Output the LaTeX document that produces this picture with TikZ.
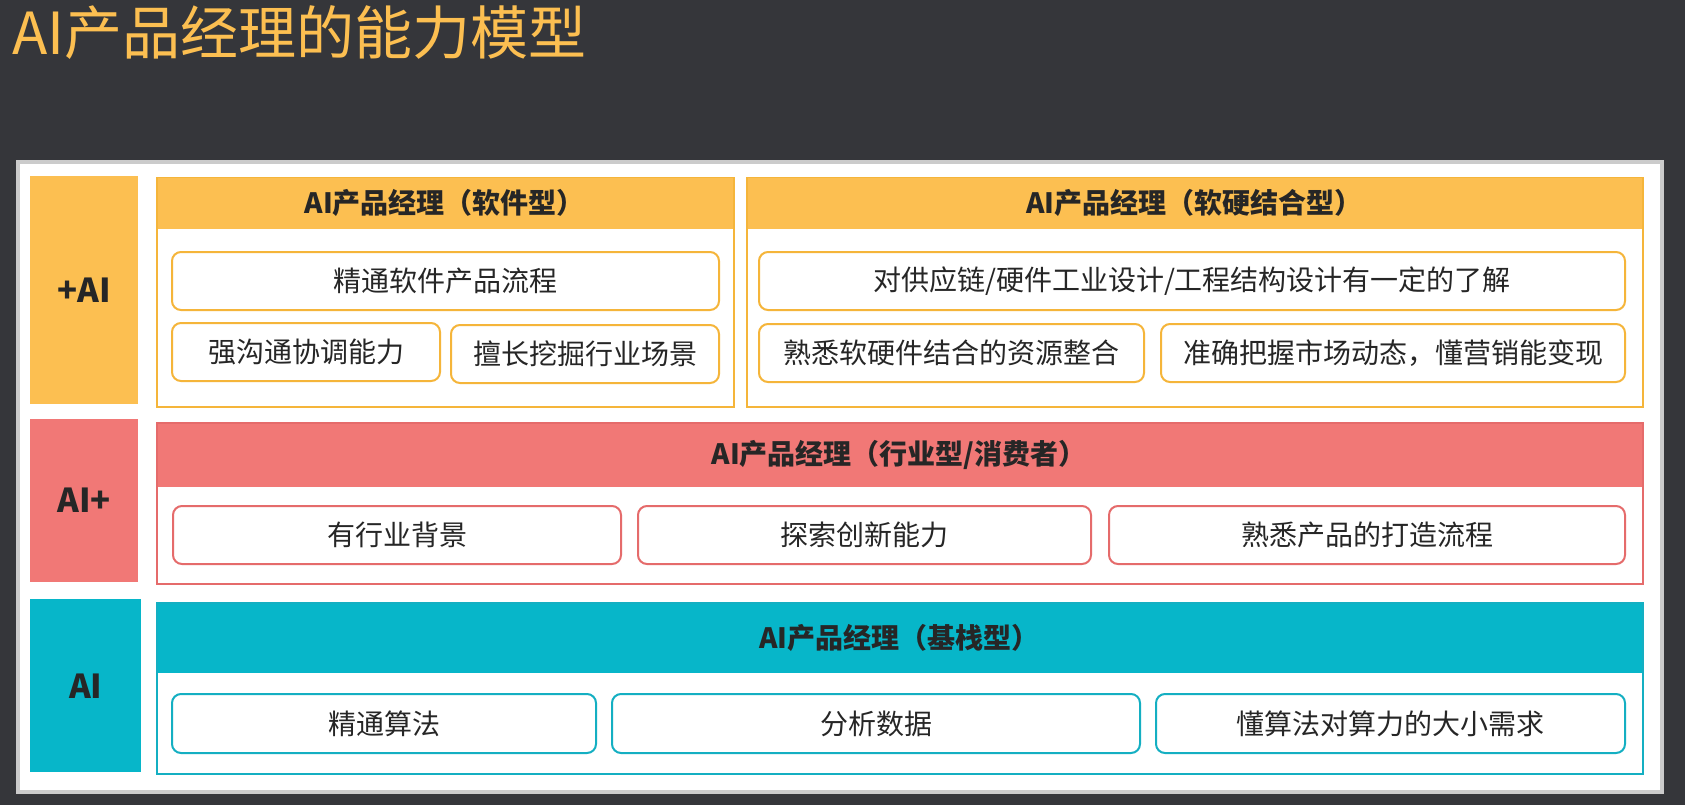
\documentclass[tikz,border=0pt]{standalone}
\usepackage{fontspec}
\setmainfont{Noto Sans CJK SC}
\usepackage{xcolor}
\usetikzlibrary{positioning,calc}

\definecolor{slate}{HTML}{35363A}
\definecolor{amber}{HTML}{FCBF51}
\definecolor{amberline}{HTML}{F5B53A}
\definecolor{coral}{HTML}{F17876}
\definecolor{coralline}{HTML}{E56B6B}
\definecolor{aqua}{HTML}{07B6C9}
\definecolor{aqualine}{HTML}{14AFC2}
\definecolor{ink}{HTML}{262626}
\definecolor{frame}{HTML}{CBCBCB}

\tikzset{
	sz/.style 2 args={minimum width=#1pt, minimum height=#2pt},
	tier/.style={fill=#1, inner sep=0pt, anchor=north west, text=ink, font=\bfseries\fontsize{33}{40}\selectfont},
	grpframe/.style={draw=#1, line width=1.5pt, inner sep=0pt, anchor=north west},
	grphead/.style={fill=#1, inner sep=0pt, anchor=north west, text=ink, font=\bfseries\fontsize{28}{34}\selectfont},
	skill/.style={draw=#1, fill=white, line width=2pt, rounded corners=9pt, inner sep=0pt, anchor=north west, text=ink, font=\fontsize{28}{34}\selectfont},
}

\begin{document}
\begin{tikzpicture}[x=1pt, y=-1pt]
	\useasboundingbox (0,0) rectangle (1685,805);
	\fill[slate] (0,0) rectangle (1685,805);

	% title
	\node[anchor=west, inner sep=0pt, text=amber, font=\fontsize{58}{66}\selectfont] (title) at (12,33) {AI产品经理的能力模型};

	% white panel
	\node[draw=frame, fill=white, line width=4pt, anchor=north west, inner sep=0pt, sz={1644}{630}] (panel) at (16,160) {};

	% tiers on the left
	\node[tier=amber, sz={108}{228}] (plusai) at (30,176) {+AI};
	\node[tier=coral, sz={108}{163}] (aiplus) at (30,419) {AI+};
	\node[tier=aqua, sz={111}{173}] (aionly) at (30,599) {AI};

	% +AI: software
	\node[grphead=amber, sz={577}{52}] (swhead) at (156,177) {AI产品经理（软件型）};
	\node[grpframe=amberline, sz={577}{229}] (swbox) at (156,177) {};
	\node[skill=amberline, sz={547}{58}] (sw1) at (171,251) {精通软件产品流程};
	\node[skill=amberline, sz={268}{58}] (sw2) at (171,322) {强沟通协调能力};
	\node[skill=amberline, sz={268}{58}] (sw3) at (450,324) {擅长挖掘行业场景};

	% +AI: software and hardware
	\node[grphead=amber, sz={896}{52}] (hwhead) at (746,177) {AI产品经理（软硬结合型）};
	\node[grpframe=amberline, sz={896}{229}] (hwbox) at (746,177) {};
	\node[skill=amberline, sz={866}{58}] (hw1) at (758,251) {对供应链/硬件工业设计/工程结构设计有一定的了解};
	\node[skill=amberline, sz={385}{58}] (hw2) at (758,323) {熟悉软硬件结合的资源整合};
	\node[skill=amberline, sz={464}{58}] (hw3) at (1160,323) {准确把握市场动态，懂营销能变现};

	% AI+: industry
	\node[grphead=coral, sz={1486}{65}] (indhead) at (156,422) {AI产品经理（行业型/消费者）};
	\node[grpframe=coralline, sz={1486}{161}] (indbox) at (156,422) {};
	\node[skill=coralline, sz={448}{58}] (ind1) at (172,505) {有行业背景};
	\node[skill=coralline, sz={453}{58}] (ind2) at (637,505) {探索创新能力};
	\node[skill=coralline, sz={516}{58}] (ind3) at (1108,505) {熟悉产品的打造流程};

	% AI: base stack
	\node[grphead=aqua, sz={1486}{71}] (basehead) at (156,602) {AI产品经理（基栈型）};
	\node[grpframe=aqualine, sz={1486}{171}] (basebox) at (156,602) {};
	\node[skill=aqualine, sz={424}{59}] (base1) at (171,693) {精通算法};
	\node[skill=aqualine, sz={528}{59}] (base2) at (611,693) {分析数据};
	\node[skill=aqualine, sz={469}{59}] (base3) at (1155,693) {懂算法对算力的大小需求};
\end{tikzpicture}
\end{document}
